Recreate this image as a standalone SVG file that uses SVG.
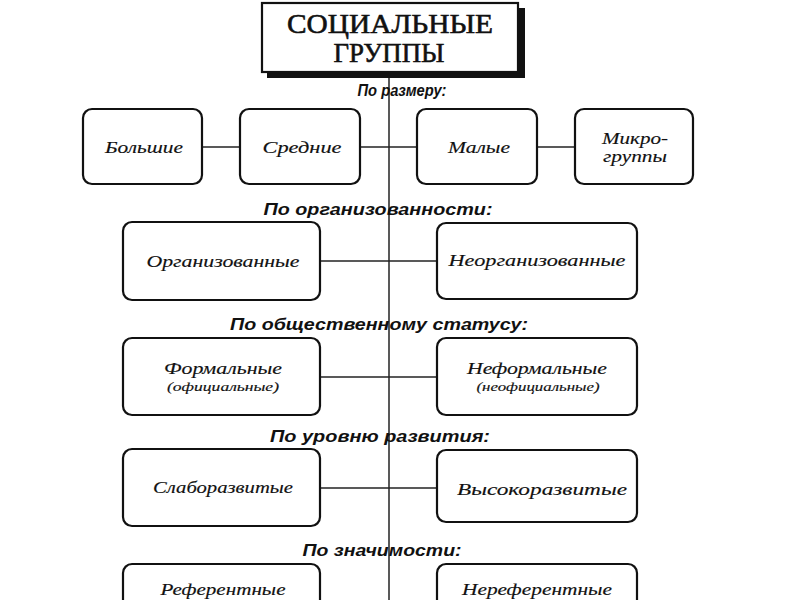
<svg xmlns="http://www.w3.org/2000/svg" width="800" height="600" viewBox="0 0 800 600">
<style>
.box{fill:#fff;stroke:#111;stroke-width:2.2}
.t{font-family:"Liberation Serif","Times New Roman",serif;font-style:italic;font-size:17px;fill:#111;stroke:#111;stroke-width:0.15;text-anchor:middle}
.s{font-family:"Liberation Serif","Times New Roman",serif;font-style:italic;font-size:12.5px;fill:#111;stroke:#111;stroke-width:0.15;text-anchor:middle}
.lbl{font-family:"Liberation Sans",Arial,sans-serif;font-style:italic;font-weight:bold;font-size:16.5px;fill:#111;text-anchor:middle}
.title{font-family:"Liberation Serif","Times New Roman",serif;font-size:28px;fill:#111;stroke:#111;stroke-width:0.6;text-anchor:middle}
.c{stroke:#222;stroke-width:1.5;fill:none}
</style>
<rect width="800" height="600" fill="#fff"/>
<g id="connectors">
<line class="c" x1="389" y1="72" x2="389" y2="600" stroke-width="1.2"/>
<line class="c" x1="202" y1="147" x2="240" y2="147"/>
<line class="c" x1="360" y1="147" x2="417" y2="147"/>
<line class="c" x1="537" y1="147" x2="575" y2="147"/>
<line class="c" x1="320" y1="261" x2="437" y2="261"/>
<line class="c" x1="320" y1="377" x2="437" y2="377"/>
<line class="c" x1="320" y1="488" x2="437" y2="488"/>
</g>
<g id="title">
<rect x="267" y="8" width="258" height="70" fill="#111"/>
<rect class="box" x="262" y="3" width="256" height="69"/>
<text class="title" x="390" y="33" textLength="206" lengthAdjust="spacingAndGlyphs">СОЦИАЛЬНЫЕ</text>
<text class="title" x="389" y="62" textLength="111" lengthAdjust="spacingAndGlyphs">ГРУППЫ</text>
</g>
<g id="labels">
<text class="lbl" x="402" y="96" textLength="89" lengthAdjust="spacingAndGlyphs">По размеру:</text>
<text class="lbl" x="378" y="215" textLength="229" lengthAdjust="spacingAndGlyphs">По организованности:</text>
<text class="lbl" x="379" y="330" textLength="298" lengthAdjust="spacingAndGlyphs">По общественному статусу:</text>
<text class="lbl" x="380" y="442" textLength="220" lengthAdjust="spacingAndGlyphs">По уровню развития:</text>
<text class="lbl" x="382" y="556" textLength="159" lengthAdjust="spacingAndGlyphs">По значимости:</text>
</g>
<g id="bolshie">
<rect class="box" x="83" y="109" width="119" height="75" rx="9"/>
<text class="t" x="144" y="153" textLength="78" lengthAdjust="spacingAndGlyphs">Большие</text>
</g>
<g id="srednie">
<rect class="box" x="240" y="109" width="120" height="75" rx="9"/>
<text class="t" x="302" y="153" textLength="79" lengthAdjust="spacingAndGlyphs">Средние</text>
</g>
<g id="malye">
<rect class="box" x="417" y="109" width="120" height="75" rx="9"/>
<text class="t" x="479" y="153" textLength="62" lengthAdjust="spacingAndGlyphs">Малые</text>
</g>
<g id="mikrogruppy">
<rect class="box" x="575" y="109" width="118" height="75" rx="9"/>
<text class="t" x="635" y="144" textLength="66" lengthAdjust="spacingAndGlyphs">Микро-</text>
<text class="t" x="635" y="162" textLength="64" lengthAdjust="spacingAndGlyphs">группы</text>
</g>
<g id="organizovannye">
<rect class="box" x="123" y="222" width="197" height="78" rx="9"/>
<text class="t" x="223" y="267" textLength="153" lengthAdjust="spacingAndGlyphs">Организованные</text>
</g>
<g id="neorganizovannye">
<rect class="box" x="437" y="223" width="200" height="76" rx="9"/>
<text class="t" x="537" y="266" textLength="177" lengthAdjust="spacingAndGlyphs">Неорганизованные</text>
</g>
<g id="formalnye">
<rect class="box" x="123" y="338" width="197" height="77" rx="9"/>
<text class="t" x="223" y="374" textLength="118" lengthAdjust="spacingAndGlyphs">Формальные</text>
<text class="s" x="223" y="391" textLength="112" lengthAdjust="spacingAndGlyphs">(официальные)</text>
</g>
<g id="neformalnye">
<rect class="box" x="437" y="338" width="200" height="77" rx="9"/>
<text class="t" x="537" y="374" textLength="140" lengthAdjust="spacingAndGlyphs">Неформальные</text>
<text class="s" x="538" y="391" textLength="123" lengthAdjust="spacingAndGlyphs">(неофициальные)</text>
</g>
<g id="slaborazvitye">
<rect class="box" x="123" y="449" width="197" height="77" rx="9"/>
<text class="t" x="223" y="493" textLength="140" lengthAdjust="spacingAndGlyphs">Слаборазвитые</text>
</g>
<g id="vysokorazvitye">
<rect class="box" x="437" y="450" width="200" height="72" rx="9"/>
<text class="t" x="542" y="495" textLength="170" lengthAdjust="spacingAndGlyphs">Высокоразвитые</text>
</g>
<g id="referentnye">
<rect class="box" x="123" y="564" width="197" height="77" rx="9"/>
<text class="t" x="223" y="595" textLength="125" lengthAdjust="spacingAndGlyphs">Референтные</text>
</g>
<g id="nereferentnye">
<rect class="box" x="437" y="564" width="200" height="77" rx="9"/>
<text class="t" x="537" y="595" textLength="150" lengthAdjust="spacingAndGlyphs">Нереферентные</text>
</g>
</svg>
